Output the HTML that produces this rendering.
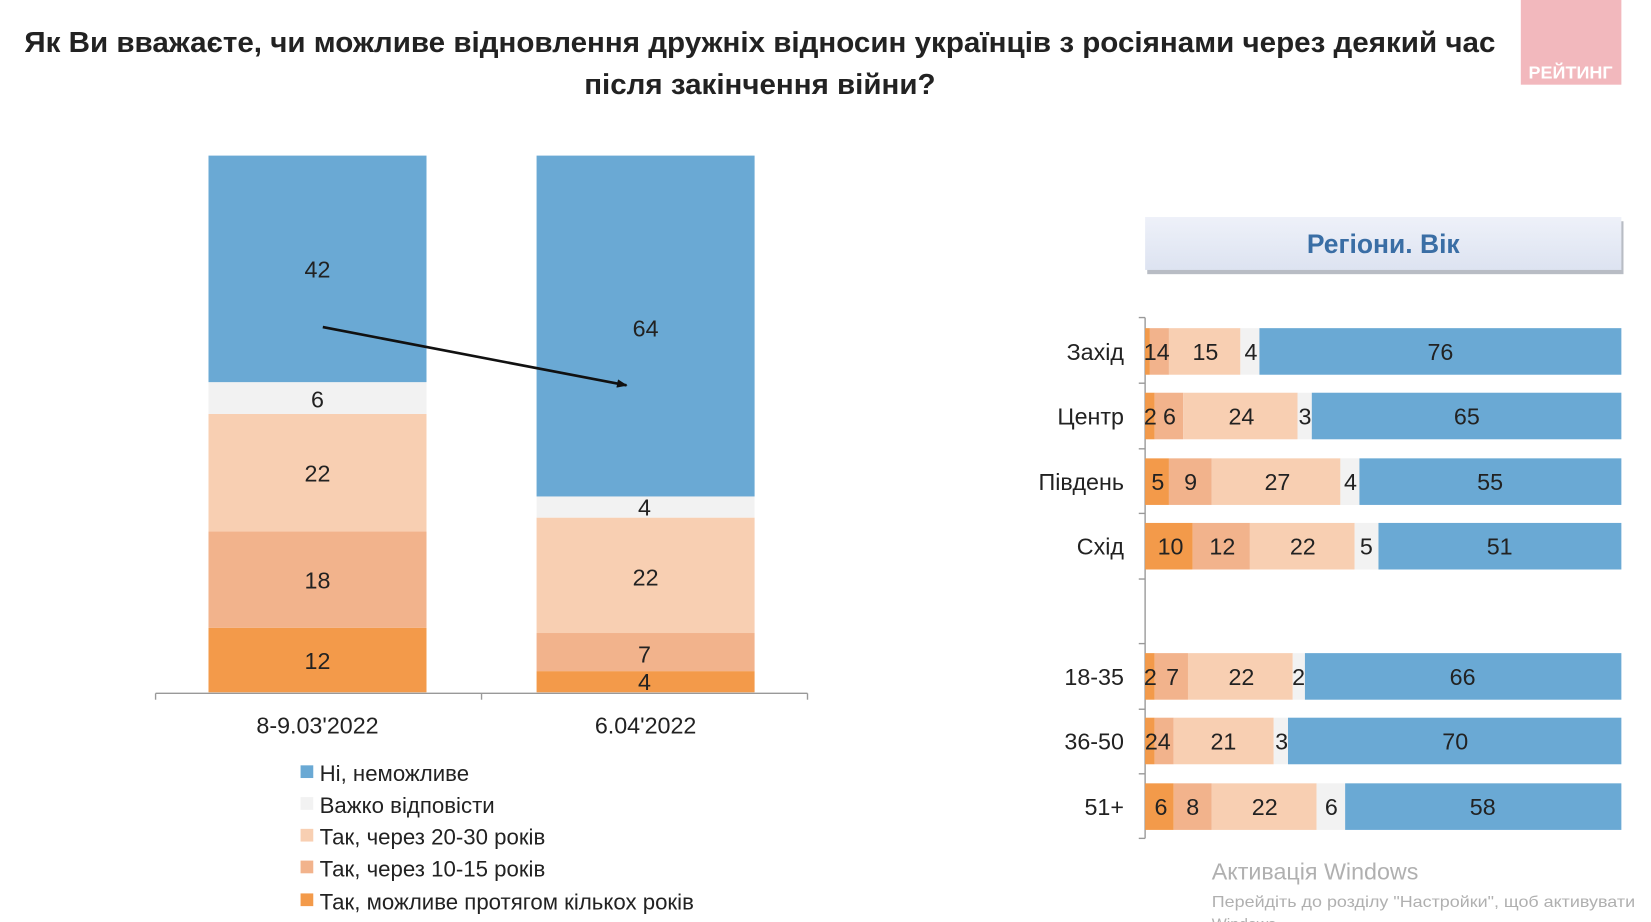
<!DOCTYPE html>
<html><head><meta charset="utf-8"><style>
html,body{margin:0;padding:0;background:#fff;}
svg{display:block;}
text{font-family:"Liberation Sans","DejaVu Sans",sans-serif;fill:#222;}
</style></head><body>
<svg width="1651" height="922" viewBox="0 0 1560 871" preserveAspectRatio="none" xmlns="http://www.w3.org/2000/svg">
<defs>
<linearGradient id="hb" x1="0" y1="0" x2="0" y2="1"><stop offset="0" stop-color="#eef1f9"/><stop offset="1" stop-color="#dde3f1"/></linearGradient>
<marker id="ah" markerWidth="10" markerHeight="8" refX="9" refY="4" orient="auto" markerUnits="userSpaceOnUse"><path d="M0,0 L10,4 L0,8 z" fill="#111"/></marker>
</defs>
<!-- title -->
<text x="718" y="49" font-size="27" font-weight="bold" text-anchor="middle" textLength="1390" lengthAdjust="spacingAndGlyphs">Як Ви вважаєте, чи можливе відновлення дружніх відносин українців з росіянами через деякий час</text>
<text x="718" y="89" font-size="27" font-weight="bold" text-anchor="middle" textLength="332" lengthAdjust="spacingAndGlyphs">після закінчення війни?</text>
<!-- logo -->
<rect x="1437" y="0" width="95" height="80" fill="#f2b8bd"/>
<text x="1484" y="74" font-size="17" font-weight="bold" text-anchor="middle" style="fill:#fff">РЕЙТИНГ</text>

<!-- left chart -->
<g>
<rect x="197" y="593" width="206" height="61" fill="#f39a4a"/>
<rect x="197" y="502" width="206" height="91" fill="#f2b38c"/>
<rect x="197" y="391" width="206" height="111" fill="#f8cfb2"/>
<rect x="197" y="361" width="206" height="30" fill="#f2f2f2"/>
<rect x="197" y="147" width="206" height="214" fill="#6aa9d4"/>
<rect x="507" y="634" width="206" height="20" fill="#f39a4a"/>
<rect x="507" y="598" width="206" height="36" fill="#f2b38c"/>
<rect x="507" y="489" width="206" height="109" fill="#f8cfb2"/>
<rect x="507" y="469" width="206" height="20" fill="#f2f2f2"/>
<rect x="507" y="147" width="206" height="322" fill="#6aa9d4"/>
</g>
<g font-size="22" text-anchor="middle">
<text x="300" y="262">42</text><text x="300" y="385">6</text><text x="300" y="455">22</text><text x="300" y="556">18</text><text x="300" y="632">12</text>
<text x="610" y="318">64</text><text x="609" y="487">4</text><text x="610" y="553">22</text><text x="609" y="626">7</text><text x="609" y="652">4</text>
</g>
<line x1="305" y1="309" x2="592" y2="364" stroke="#111" stroke-width="2.5" marker-end="url(#ah)"/>
<g stroke="#999" stroke-width="1.3">
<line x1="147" y1="655" x2="763" y2="655"/>
<line x1="147" y1="655" x2="147" y2="661"/><line x1="455" y1="655" x2="455" y2="661"/><line x1="763" y1="655" x2="763" y2="661"/>
</g>
<g font-size="22" text-anchor="middle">
<text x="300" y="693">8-9.03'2022</text><text x="610" y="693">6.04'2022</text>
</g>
<g font-size="21">
<rect x="284" y="723" width="12" height="12" fill="#6aa9d4"/><text x="302" y="738">Ні, неможливе</text>
<rect x="284" y="753" width="12" height="12" fill="#f2f2f2"/><text x="302" y="768">Важко відповісти</text>
<rect x="284" y="783" width="12" height="12" fill="#f8cfb2"/><text x="302" y="798">Так, через 20-30 років</text>
<rect x="284" y="813" width="12" height="12" fill="#f2b38c"/><text x="302" y="828">Так, через 10-15 років</text>
<rect x="284" y="844" width="12" height="12" fill="#f39a4a"/><text x="302" y="859">Так, можливе протягом кількох років</text>
</g>

<!-- right header -->
<rect x="1084" y="209" width="450" height="50" fill="#b8bcc4"/>
<rect x="1082" y="205" width="450" height="50" fill="url(#hb)"/>
<text x="1307" y="239" font-size="25" font-weight="bold" text-anchor="middle" style="fill:#3a6ea5">Регіони. Вік</text>

<!-- right axis -->
<g stroke="#999" stroke-width="1.3">
<line x1="1082" y1="300" x2="1082" y2="792"/>
<line x1="1076" y1="300" x2="1082" y2="300"/><line x1="1076" y1="362" x2="1082" y2="362"/><line x1="1076" y1="424" x2="1082" y2="424"/><line x1="1076" y1="485" x2="1082" y2="485"/><line x1="1076" y1="547" x2="1082" y2="547"/><line x1="1076" y1="608" x2="1082" y2="608"/><line x1="1076" y1="670" x2="1082" y2="670"/><line x1="1076" y1="731" x2="1082" y2="731"/><line x1="1076" y1="792" x2="1082" y2="792"/>
</g>
<g font-size="22" text-anchor="end">
<text x="1062" y="340">Захід</text><text x="1062" y="401">Центр</text><text x="1062" y="463">Південь</text><text x="1062" y="524">Схід</text>
<text x="1062" y="647">18-35</text><text x="1062" y="708">36-50</text><text x="1062" y="770">51+</text>
</g>
<!-- rows -->
<g>
<rect x="1082" y="310" width="4.5" height="44" fill="#f39a4a"/><rect x="1086.5" y="310" width="18" height="44" fill="#f2b38c"/><rect x="1104.5" y="310" width="67.5" height="44" fill="#f8cfb2"/><rect x="1172" y="310" width="18" height="44" fill="#f2f2f2"/><rect x="1190" y="310" width="342" height="44" fill="#6aa9d4"/>
<rect x="1082" y="371" width="9" height="44" fill="#f39a4a"/><rect x="1091" y="371" width="27" height="44" fill="#f2b38c"/><rect x="1118" y="371" width="108" height="44" fill="#f8cfb2"/><rect x="1226" y="371" width="13.5" height="44" fill="#f2f2f2"/><rect x="1239.5" y="371" width="292.5" height="44" fill="#6aa9d4"/>
<rect x="1082" y="433" width="22.5" height="44" fill="#f39a4a"/><rect x="1104.5" y="433" width="40.5" height="44" fill="#f2b38c"/><rect x="1145" y="433" width="121.5" height="44" fill="#f8cfb2"/><rect x="1266.5" y="433" width="18" height="44" fill="#f2f2f2"/><rect x="1284.5" y="433" width="247.5" height="44" fill="#6aa9d4"/>
<rect x="1082" y="494" width="45" height="44" fill="#f39a4a"/><rect x="1127" y="494" width="54" height="44" fill="#f2b38c"/><rect x="1181" y="494" width="99" height="44" fill="#f8cfb2"/><rect x="1280" y="494" width="22.5" height="44" fill="#f2f2f2"/><rect x="1302.5" y="494" width="229.5" height="44" fill="#6aa9d4"/>
<rect x="1082" y="617" width="9" height="44" fill="#f39a4a"/><rect x="1091" y="617" width="31.5" height="44" fill="#f2b38c"/><rect x="1122.5" y="617" width="99" height="44" fill="#f8cfb2"/><rect x="1221.5" y="617" width="11.5" height="44" fill="#f2f2f2"/><rect x="1233" y="617" width="299" height="44" fill="#6aa9d4"/>
<rect x="1082" y="678" width="9" height="44" fill="#f39a4a"/><rect x="1091" y="678" width="18" height="44" fill="#f2b38c"/><rect x="1109" y="678" width="94.5" height="44" fill="#f8cfb2"/><rect x="1203.5" y="678" width="13.5" height="44" fill="#f2f2f2"/><rect x="1217" y="678" width="315" height="44" fill="#6aa9d4"/>
<rect x="1082" y="740" width="27" height="44" fill="#f39a4a"/><rect x="1109" y="740" width="36" height="44" fill="#f2b38c"/><rect x="1145" y="740" width="99" height="44" fill="#f8cfb2"/><rect x="1244" y="740" width="27" height="44" fill="#f2f2f2"/><rect x="1271" y="740" width="261" height="44" fill="#6aa9d4"/>
</g>
<g font-size="22" text-anchor="middle">
<text x="1093" y="340">14</text><text x="1139" y="340">15</text><text x="1182" y="340">4</text><text x="1361" y="340">76</text>
<text x="1087" y="401">2</text><text x="1105" y="401">6</text><text x="1173" y="401">24</text><text x="1233" y="401">3</text><text x="1386" y="401">65</text>
<text x="1094" y="463">5</text><text x="1125" y="463">9</text><text x="1207" y="463">27</text><text x="1276" y="463">4</text><text x="1408" y="463">55</text>
<text x="1106" y="524">10</text><text x="1155" y="524">12</text><text x="1231" y="524">22</text><text x="1291" y="524">5</text><text x="1417" y="524">51</text>
<text x="1087" y="647">2</text><text x="1108" y="647">7</text><text x="1173" y="647">22</text><text x="1227" y="647">2</text><text x="1382" y="647">66</text>
<text x="1094" y="708">24</text><text x="1156" y="708">21</text><text x="1211" y="708">3</text><text x="1375" y="708">70</text>
<text x="1097" y="770">6</text><text x="1127" y="770">8</text><text x="1195" y="770">22</text><text x="1258" y="770">6</text><text x="1401" y="770">58</text>
</g>
<!-- watermark -->
<text x="1145" y="831" font-size="22" style="fill:#b0b0b0">Активація Windows</text>
<text x="1145" y="857" font-size="15" style="fill:#b0b0b0" textLength="400" lengthAdjust="spacingAndGlyphs">Перейдіть до розділу "Настройки", щоб активувати</text>
<text x="1145" y="878" font-size="15" style="fill:#b0b0b0">Windows</text>
</svg>
</body></html>
